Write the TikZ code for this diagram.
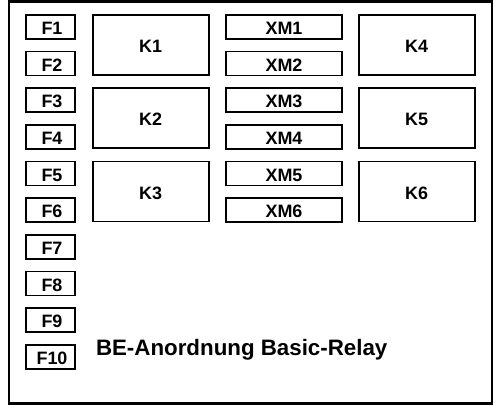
\documentclass[tikz,border=0pt]{standalone}
\usepackage{fontspec}
\setmainfont{Liberation Sans}
\begin{document}
\begin{tikzpicture}[x=1bp,y=-1bp,
  boxbase/.style={draw,line width=1.6bp,inner sep=0pt,text height=15.6bp,text depth=0bp,font=\fontsize{18}{18}\selectfont\bfseries},
  fbox/.style={boxbase,minimum width=49bp,minimum height=24bp},
  xmbox/.style={boxbase,minimum width=116bp,minimum height=24bp},
  kbox/.style={boxbase,minimum width=116bp,minimum height=60bp},
  frame/.style={draw,line width=2.4bp}]
\useasboundingbox (0,0) rectangle (496,405);
\draw[frame] (9,1.3) rectangle (491.8,403.6);
\foreach \i in {1,...,10}{
  \node[fbox] (F\i) at (50.5,{26.7+36.67*(\i-1)}) {\hspace{3bp}F\i};
}
\foreach \i in {1,...,6}{
  \node[xmbox] (XM\i) at (284,{26.7+36.67*(\i-1)}) {XM\i};
}
\foreach \j in {1,2,3}{
  \node[kbox] (K\j) at (150.7,{44.7+73.33*(\j-1)}) {K\j};
}
\foreach \j/\n in {1/4,2/5,3/6}{
  \node[kbox] (K\n) at (416.7,{44.7+73.33*(\j-1)}) {K\n};
}
\node[anchor=base west,inner sep=0pt,font=\fontsize{22.4}{23}\selectfont\bfseries] (title) at (95.8,355.7) {BE-Anordnung Basic-Relay};
\end{tikzpicture}
\end{document}
